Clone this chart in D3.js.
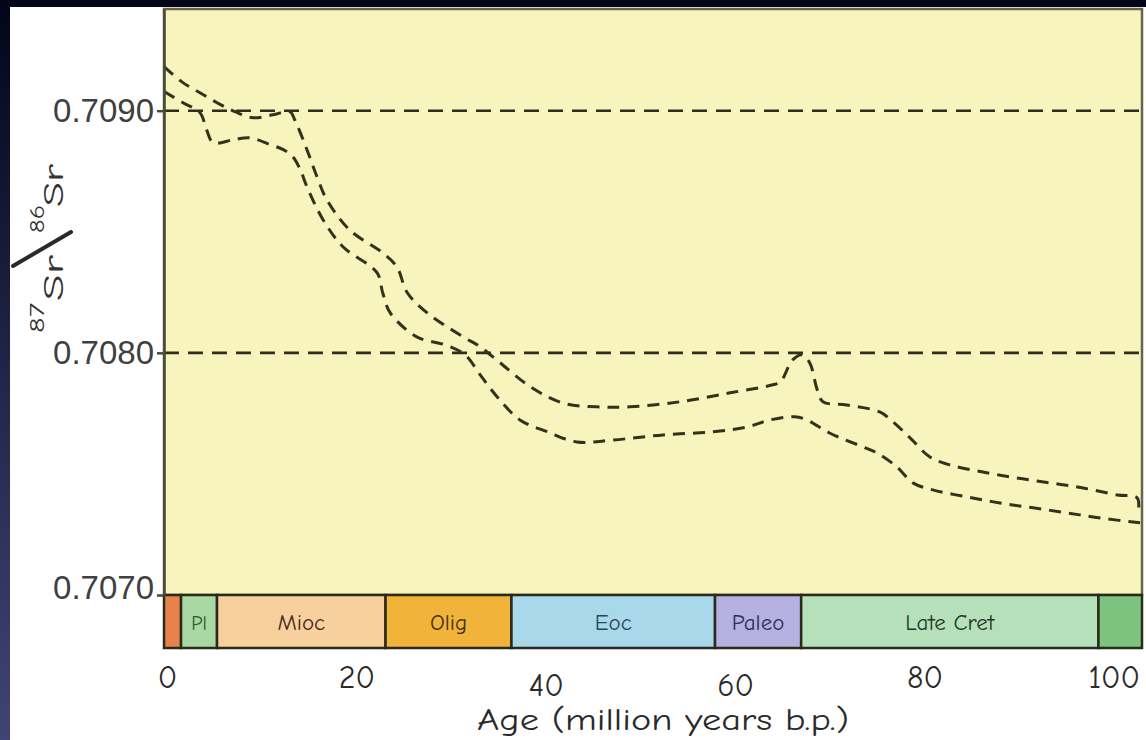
<!DOCTYPE html>
<html>
<head>
<meta charset="utf-8">
<script src="https://cdn.jsdelivr.net/npm/d3@7"></script>
<style>
  html, body { margin: 0; padding: 0; background: #ffffff; }
  svg { display: block; }
</style>
</head>
<body>
<svg id="chart" width="1146" height="740"></svg>
<script>
// ---------- data ----------
const xTicks = [0, 20, 40, 60, 80, 100];
const yTicks = [0.7070, 0.7080, 0.7090];
const refLines = [0.7080, 0.7090];

// upper envelope: [age Ma, 87Sr/86Sr]
const upperCurve = [
  [0.0, 0.709182], [2.0, 0.709116], [3.8, 0.709074], [5.6, 0.709033], [7.5, 0.708996],
  [9.4, 0.708971], [11.5, 0.708983], [13.3, 0.708996], [13.8, 0.708963], [15.1, 0.708839],
  [16.2, 0.708723], [17.2, 0.708632], [19.6, 0.708508], [23.1, 0.708413], [24.6, 0.708355],
  [25.7, 0.708248], [27.8, 0.708165], [31.6, 0.708066], [33.4, 0.708025], [35.5, 0.707959],
  [38.7, 0.707860], [42.1, 0.707793], [45.7, 0.707777], [49.2, 0.707777], [54.5, 0.707798],
  [59.8, 0.707835], [64.3, 0.707868], [65.1, 0.707880], [66.4, 0.707971], [67.4, 0.707992],
  [68.2, 0.707959], [69.0, 0.707847], [69.6, 0.707798], [72.1, 0.707785], [75.6, 0.707756],
  [77.0, 0.707715], [78.8, 0.707649], [80.9, 0.707570], [83.0, 0.707537], [86.5, 0.707508],
  [90.1, 0.707483], [93.6, 0.707463], [97.1, 0.707442], [100.7, 0.707413], [102.8, 0.707401],
  [102.9, 0.707343]
];

// lower envelope
const lowerCurve = [
  [0.0, 0.709079], [2.0, 0.709033], [3.8, 0.708992], [4.5, 0.708921], [5.2, 0.708868],
  [7.3, 0.708880], [9.1, 0.708888], [11.2, 0.708860], [12.6, 0.708839], [13.6, 0.708810],
  [14.4, 0.708756], [15.1, 0.708686], [16.8, 0.708550], [18.9, 0.708438], [22.5, 0.708331],
  [23.1, 0.708248], [23.9, 0.708165], [26.7, 0.708066], [29.7, 0.708033], [31.8, 0.707992],
  [33.4, 0.707909], [35.2, 0.707818], [37.6, 0.707723], [40.5, 0.707674], [43.6, 0.707632],
  [47.4, 0.707640], [52.7, 0.707661], [58.0, 0.707674], [61.6, 0.707694], [64.0, 0.707723],
  [66.6, 0.707736], [67.9, 0.707723], [70.3, 0.707669], [73.8, 0.707612], [75.3, 0.707587],
  [77.4, 0.707529], [79.1, 0.707463], [81.2, 0.707434], [84.8, 0.707405], [88.3, 0.707380],
  [91.8, 0.707360], [95.4, 0.707339], [98.9, 0.707318], [103.1, 0.707298]
];

// geological time bar
const epochNames  = ["", "Pl", "Mioc", "Olig", "Eoc", "Paleo", "Late Cret", ""];
const epochStart  = [0, 1.8, 5.6, 23.4, 36.7, 58.2, 67.3, 98.7];
const epochEnd    = [1.8, 5.6, 23.4, 36.7, 58.2, 67.3, 98.7, 103.3];
const epochFill   = ["#e9814c", "#a9d8a2", "#f8d09e", "#f1b33a", "#a8d8ea", "#b4b1e0", "#b6e0b9", "#7dc380"];
const epochText   = ["#333", "#2e5a2e", "#3f2d1a", "#42300f", "#27475a", "#2e2e55", "#1d3a26", "#333"];

const xTitle = "Age (million years b.p.)";

// ---------- layout ----------
const svg = d3.select("#chart");
const W = 1146, H = 740;
const plot = { left: 164, right: 1142, top: 9, bottom: 595 };
const barBottom = 648;
const comic = "'Comic Sans MS', 'Comic Neue', Lato, sans-serif";

const x = d3.scaleLinear().domain([0, 103.3]).range([plot.left, plot.right]);
const y = d3.scaleLinear().domain([0.7070, 0.70942]).range([plot.bottom, plot.top]);

// dark slide background
const defs = svg.append("defs");
const g1 = defs.append("linearGradient").attr("id", "darkGrad")
  .attr("x1", 0).attr("y1", 0).attr("x2", 0).attr("y2", 1);
g1.append("stop").attr("offset", "0%").attr("stop-color", "#04041a");
g1.append("stop").attr("offset", "100%").attr("stop-color", "#404474");
svg.append("rect").attr("x", 0).attr("y", 0).attr("width", W).attr("height", H).attr("fill", "url(#darkGrad)");
svg.append("rect").attr("x", 0).attr("y", 0).attr("width", W).attr("height", 7).attr("fill", "#05051a");
svg.append("rect").attr("x", 10).attr("y", 7).attr("width", W - 10).attr("height", H - 7).attr("fill", "#ffffff");

// plot background
svg.append("rect")
  .attr("x", x(0)).attr("y", y(0.70942))
  .attr("width", x(103.3) - x(0)).attr("height", y(0.7070) - y(0.70942))
  .attr("fill", "#f7f5bd")
  .attr("stroke", "#66654a").attr("stroke-width", 2.5);

// reference dashed lines
svg.selectAll("line.ref").data(refLines).enter().append("line")
  .attr("class", "ref")
  .attr("x1", x(0)).attr("x2", x(103.3))
  .attr("y1", d => y(d)).attr("y2", d => y(d))
  .attr("stroke", "#2e2e20").attr("stroke-width", 2.6)
  .attr("stroke-dasharray", "15,9");

// curves
const line = d3.line()
  .x(d => x(d[0])).y(d => y(d[1]))
  .curve(d3.curveCatmullRom.alpha(0.5));

[upperCurve, lowerCurve].forEach(c => {
  svg.append("path").datum(c)
    .attr("d", line)
    .attr("fill", "none")
    .attr("stroke", "#33331d").attr("stroke-width", 3)
    .attr("stroke-dasharray", "12,8");
});

// time bar
const epochs = epochNames.map((n, i) => ({ name: n, s: epochStart[i], e: epochEnd[i], fill: epochFill[i], tc: epochText[i] }));
const eg = svg.append("g");
eg.selectAll("rect").data(epochs).enter().append("rect")
  .attr("x", d => x(d.s)).attr("y", plot.bottom)
  .attr("width", d => x(d.e) - x(d.s)).attr("height", barBottom - plot.bottom)
  .attr("fill", d => d.fill)
  .attr("stroke", "#2a2a1a").attr("stroke-width", 2.5);
eg.selectAll("text").data(epochs.filter(d => d.name)).enter().append("text")
  .attr("x", d => (x(d.s) + x(d.e)) / 2)
  .attr("y", 630)
  .attr("text-anchor", "middle")
  .attr("font-family", comic)
  .attr("font-size", d => d.name === "Pl" ? 20 : 23)
  .attr("fill", d => d.tc)
  .text(d => d.name);

// y axis
const yAxis = d3.axisLeft(y).tickValues(yTicks).tickFormat(d3.format(".4f"))
  .tickSize(7).tickSizeOuter(0).tickPadding(3);
const yg = svg.append("g").attr("transform", `translate(${plot.left},0)`).call(yAxis);
yg.select(".domain").attr("stroke", "#4a4935").attr("stroke-width", 2.5);
yg.selectAll(".tick line").attr("stroke", "#4a4935").attr("stroke-width", 2.5);
yg.selectAll(".tick text")
  .attr("font-family", "'Liberation Sans', Arial, sans-serif")
  .attr("font-size", 33).attr("fill", "#404040")
  .attr("dy", d => d === 0.7070 ? "0.1em" : "0.32em");

// x axis labels
const xAxis = d3.axisBottom(x).tickValues(xTicks).tickSize(0).tickSizeOuter(0).tickPadding(0).tickFormat(d3.format("d"));
const xg = svg.append("g").attr("transform", `translate(3,${barBottom + 18})`).call(xAxis);
xg.select(".domain").remove();
xg.selectAll(".tick text")
  .attr("font-family", comic)
  .attr("font-size", 32).attr("fill", "#2a2a2a")
  .attr("dy", d => (d === 40 || d === 60) ? "0.95em" : "0.7em");

// x title
svg.append("text")
  .attr("x", 663).attr("y", 730)
  .attr("text-anchor", "middle")
  .attr("font-family", comic)
  .attr("font-size", 31).attr("fill", "#2a2a2a")
  .attr("textLength", 372).attr("lengthAdjust", "spacingAndGlyphs")
  .text(xTitle);

// y title: 87Sr / 86Sr
function rotText(px, py, str, size, len) {
  svg.append("text")
    .attr("transform", `translate(${px},${py}) rotate(-90)`)
    .attr("font-family", comic)
    .attr("font-size", size)
    .attr("fill", "#333")
    .attr("textLength", len).attr("lengthAdjust", "spacingAndGlyphs")
    .text(str);
}
rotText(44, 333, "87", 21, 30);
rotText(63, 301, "Sr", 29, 46);
rotText(44, 233, "86", 21, 28);
rotText(63, 207, "Sr", 29, 43);
svg.append("line")
  .attr("x1", 13).attr("y1", 266).attr("x2", 71).attr("y2", 232)
  .attr("stroke", "#2a2a2a").attr("stroke-width", 4).attr("stroke-linecap", "round");
</script>
</body>
</html>
